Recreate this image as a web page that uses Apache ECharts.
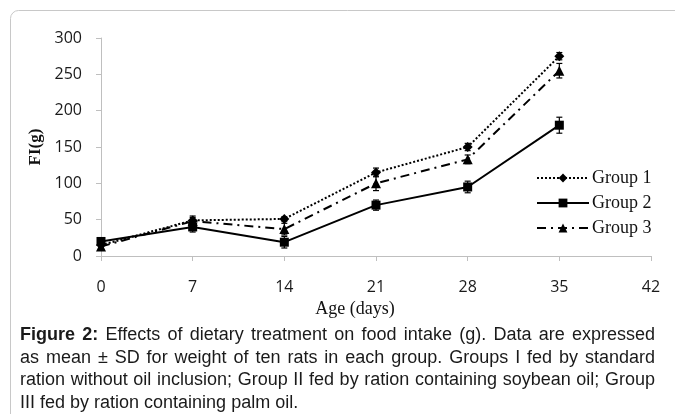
<!DOCTYPE html>
<html>
<head>
<meta charset="utf-8">
<script src="https://cdn.jsdelivr.net/npm/echarts@6/dist/echarts.min.js"></script>
<style>
  html, body { margin: 0; padding: 0; background: #fff; }
  #chart { width: 675px; height: 414px; }
</style>
</head>
<body>
<div id="chart"></div>
<script>
// age in days
var ages = [0, 7, 14, 21, 28, 35]

var group1 = [15, 49, 51, 115, 150, 275]
var group2 = [20, 40, 19, 70, 95, 180]
var group3 = [13, 48, 37, 100, 133, 255]

// standard deviations
var sd1 = [4, 6, 3, 6, 5, 5]
var sd2 = [4, 7, 8, 7, 8, 11]
var sd3 = [4, 5, 8, 10, 6, 10]

var captionBold = 'Figure 2:'
var captionLines = [
  'Effects of dietary treatment on food intake (g). Data are expressed',
  'as mean \u00b1 SD for weight of ten rats in each group. Groups I fed by standard',
  'ration without oil inclusion; Group II fed by ration containing soybean oil; Group',
  'III fed by ration containing palm oil.'
]

var chart = echarts.init(document.getElementById('chart'))

function pairs(vals) {
  return ages.map(function (a, i) { return [a, vals[i]] })
}
function errData(vals, sd) {
  return ages.map(function (a, i) { return [a, vals[i] - sd[i], vals[i] + sd[i]] })
}
function errSeries(vals, sd) {
  return {
    type: 'custom',
    silent: true,
    z: 1,
    renderItem: function (params, api) {
      var lo = api.coord([api.value(0), api.value(1)])
      var hi = api.coord([api.value(0), api.value(2)])
      var w = 3
      var st = { stroke: '#000', lineWidth: 1.2 }
      return {
        type: 'group',
        children: [
          { type: 'line', shape: { x1: lo[0], y1: lo[1], x2: hi[0], y2: hi[1] }, style: st },
          { type: 'line', shape: { x1: lo[0] - w, y1: lo[1], x2: lo[0] + w, y2: lo[1] }, style: st },
          { type: 'line', shape: { x1: hi[0] - w, y1: hi[1], x2: hi[0] + w, y2: hi[1] }, style: st }
        ]
      }
    },
    encode: { x: 0, y: [1, 2] },
    data: errData(vals, sd)
  }
}

var serif = '"Liberation Serif", "Times New Roman", serif'
var sans = '"Liberation Sans", Arial, sans-serif'
var capSize = 18

// caption laid out justified, word by word
var ctx = document.createElement('canvas').getContext('2d')
function measure(t, bold) {
  ctx.font = (bold ? 'bold ' : '') + capSize + 'px "Liberation Sans", Arial, sans-serif'
  return ctx.measureText(t).width
}
var graphics = [{
  type: 'rect',
  left: 8, top: 8,
  shape: { width: 700, height: 440, r: 8 },
  style: { fill: 'none', stroke: '#c8c8c8', lineWidth: 1 },
  silent: true
}]
var capLeft = 20, capRight = 655
captionLines.forEach(function (line, i) {
  var words = line.split(' ').map(function (w) { return { t: w, b: false } })
  if (i === 0) {
    words = captionBold.split(' ').map(function (w) { return { t: w, b: true } }).concat(words)
  }
  var total = 0
  words.forEach(function (w) { w.w = measure(w.t, w.b); total += w.w })
  var last = i === captionLines.length - 1
  var gap = last ? measure(' ', false) : (capRight - capLeft - total) / (words.length - 1)
  var x = capLeft
  words.forEach(function (w) {
    graphics.push({
      type: 'text',
      x: x,
      y: 335 + i * 22.7,
      silent: true,
      style: {
        text: w.t,
        fontFamily: sans,
        fontSize: capSize,
        fontWeight: w.b ? 'bold' : 'normal',
        fill: '#1a1a1a',
        verticalAlign: 'middle'
      }
    })
    x += w.w + gap
  })
})

chart.setOption({
  animation: false,
  grid: { left: 101, right: 24, top: 38, bottom: 158 },
  legend: {
    orient: 'vertical',
    left: 531,
    top: 164,
    itemWidth: 52,
    itemHeight: 11,
    itemGap: 7,
    textStyle: { fontFamily: serif, fontSize: 18, color: '#111', padding: [0, 0, 0, -2] },
    data: ['Group 1', 'Group 2', 'Group 3']
  },
  xAxis: {
    type: 'value',
    min: 0, max: 42, interval: 7,
    name: 'Age (days)',
    nameLocation: 'middle',
    nameGap: 31,
    nameTextStyle: { fontFamily: serif, fontSize: 18, color: '#111', padding: [0, 42, 0, 0] },
    splitLine: { show: false },
    axisLine: { lineStyle: { color: '#bfbfbf' } },
    axisTick: { show: true, length: 5, lineStyle: { color: '#bfbfbf' } },
    axisLabel: { fontFamily: '"Open Sans", sans-serif', fontSize: 16, color: '#1a1a1a', margin: 23 }
  },
  yAxis: {
    type: 'value',
    min: 0, max: 300, interval: 50,
    name: 'FI(g)',
    nameLocation: 'middle',
    nameGap: 54,
    nameRotate: 90,
    nameTextStyle: { fontFamily: serif, fontSize: 17, fontWeight: 'bold', color: '#111' },
    splitLine: { show: false },
    axisLine: { show: true, lineStyle: { color: '#bfbfbf' } },
    axisTick: { show: true, length: 5, lineStyle: { color: '#bfbfbf' } },
    axisLabel: { fontFamily: '"Open Sans", sans-serif', fontSize: 16, color: '#1a1a1a', margin: 19 }
  },
  graphic: graphics,
  series: [
    {
      name: 'Group 1',
      type: 'line',
      data: pairs(group1),
      symbol: 'diamond',
      symbolSize: 10,
      z: 3,
      itemStyle: { color: '#000' },
      lineStyle: { color: '#000', width: 2, type: [2, 2] }
    },
    {
      name: 'Group 2',
      type: 'line',
      data: pairs(group2),
      symbol: 'rect',
      symbolSize: 9,
      z: 3,
      itemStyle: { color: '#000' },
      lineStyle: { color: '#000', width: 2, type: 'solid' }
    },
    {
      name: 'Group 3',
      type: 'line',
      data: pairs(group3),
      symbol: 'triangle',
      symbolSize: 10,
      z: 3,
      itemStyle: { color: '#000' },
      lineStyle: { color: '#000', width: 2, type: [9, 5, 2, 5] }
    },
    errSeries(group1, sd1),
    errSeries(group2, sd2),
    errSeries(group3, sd3)
  ]
})
</script>
</body>
</html>
